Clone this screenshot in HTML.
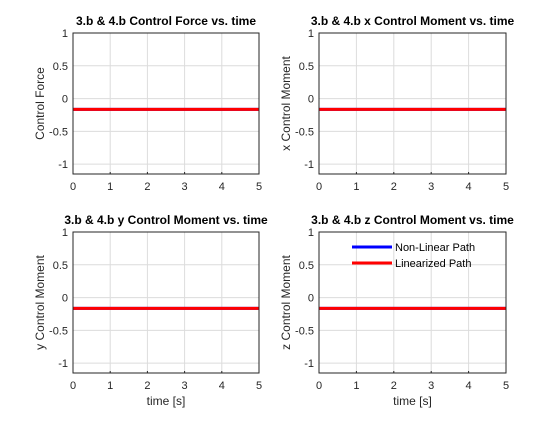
<!DOCTYPE html>
<html><head><meta charset="utf-8"><style>
body{margin:0;background:#fff}
svg{font-family:"Liberation Sans",sans-serif}
</style></head><body>
<svg id="fig" width="560" height="420" xmlns="http://www.w3.org/2000/svg"></svg>
<script>
const titles=["3.b & 4.b Control Force vs. time","3.b & 4.b x Control Moment vs. time","3.b & 4.b y Control Moment vs. time","3.b & 4.b z Control Moment vs. time"];
const ylabels=["Control Force","x Control Moment","y Control Moment","z Control Moment"];
const xticks=[0,1,2,3,4,5];
const yticks=[-1,-0.5,0,0.5,1];
const ytickLabels=["-1","-0.5","0","0.5","1"];
const timeVals=[0,5];
const nonLinear=[[-0.165,-0.165],[-0.165,-0.165],[-0.165,-0.165],[-0.165,-0.165]];
const linearized=[[-0.165,-0.165],[-0.165,-0.165],[-0.165,-0.165],[-0.165,-0.165]];
const legendLabels=["Non-Linear Path","Linearized Path"];
const NS="http://www.w3.org/2000/svg";
const svg=document.getElementById('fig');
function mk(t,a,p){const e=document.createElementNS(NS,t);for(const k in a)e.setAttribute(k,a[k]);(p||svg).appendChild(e);return e;}
const boxes=[[73,33,259,174],[319,33,506,174],[73,232,259,373],[319,232,506,373]];
const ymin=-1.15,ymax=1,xmin=0,xmax=5;
boxes.forEach((b,i)=>{
 const [L,T,R,B]=b;
 const g=mk('g',{});
 
 
 const X=v=>L+(v-xmin)/(xmax-xmin)*(R-L);
 const Y=v=>B-(v-ymin)/(ymax-ymin)*(B-T);
 mk('rect',{x:L,y:T,width:R-L,height:B-T,fill:'#fff'},g);
 xticks.forEach(t=>{
  const l=mk('line',{x1:X(t),x2:X(t),y1:T,y2:B,stroke:'#dcdcdc','stroke-width':1},g);
  
  mk('line',{x1:X(t),x2:X(t),y1:B,y2:B-2,stroke:'#262626'},g);
  const tx=mk('text',{x:X(t),y:B+16,'text-anchor':'middle','font-size':11,fill:'#262626'},g);tx.textContent=t;
  
 });
 yticks.forEach((t,j)=>{
  mk('line',{x1:L,x2:R,y1:Y(t),y2:Y(t),stroke:'#dcdcdc','stroke-width':1},g);
  const tx=mk('text',{x:L-5,y:Y(t)+4,'text-anchor':'end','font-size':11,fill:'#262626'},g);tx.textContent=ytickLabels[j];
  
 });
 const pts=a=>timeVals.map((t,k)=>X(t)+','+Y(a[k])).join(' ');
 const p1=mk('polyline',{points:pts(nonLinear[i]),fill:'none',stroke:'#0000ff','stroke-width':3},g);
 
 const p2=mk('polyline',{points:pts(linearized[i]),fill:'none',stroke:'#ff0000','stroke-width':3},g);
 
 mk('rect',{x:L,y:T,width:R-L,height:B-T,fill:'none',stroke:'#262626','stroke-width':1},g);
 const ti=mk('text',{x:(L+R)/2,y:T-8,'text-anchor':'middle','font-size':12,'font-weight':'bold',fill:'#000'},g);ti.textContent=titles[i];
 
 const yl=mk('text',{x:0,y:0,'text-anchor':'middle','font-size':12,fill:'#262626',transform:`translate(${L-29},${(T+B)/2}) rotate(-90)`},g);yl.textContent=ylabels[i];
 
 if(i>=2){const xl=mk('text',{x:(L+R)/2,y:B+32,'text-anchor':'middle','font-size':12,fill:'#262626'},g);xl.textContent='time [s]';
 }
 if(i===3){
  const lg=mk('g',{},g);
  const cols=['#0000ff','#ff0000'];
  legendLabels.forEach((s,k)=>{
   const y=247+k*16;
   mk('line',{x1:352,x2:392,y1:y,y2:y,stroke:cols[k],'stroke-width':3},lg);
   const t=mk('text',{x:395,y:y+4,'font-size':11,fill:'#000'},lg);t.textContent=s;
   
  });
 }
});
</script>
</body></html>
